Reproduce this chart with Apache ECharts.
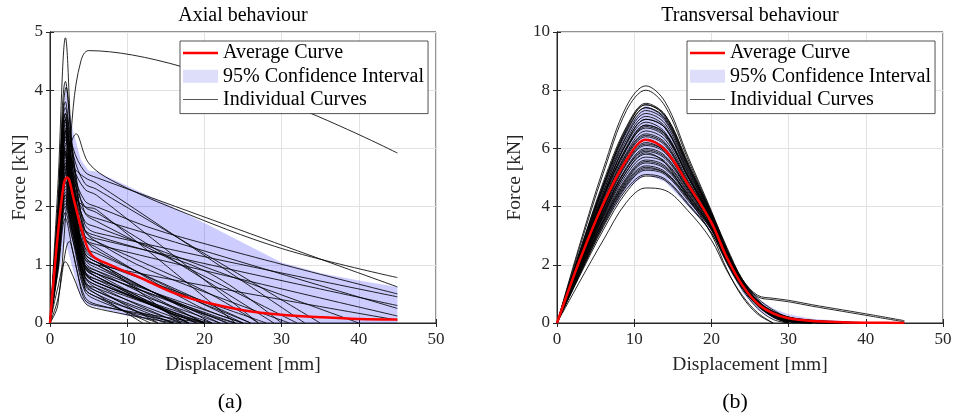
<!DOCTYPE html>
<html>
<head>
<meta charset="utf-8">
<script src="https://cdn.jsdelivr.net/npm/echarts@6/dist/echarts.min.js"></script>
<style>
  html, body { margin: 0; padding: 0; background: #fff; }
  #chart { width: 955px; height: 417px; }
</style>
</head>
<body>
<div id="chart"></div>
<script>
// ---- data ----
const titles = ['Axial behaviour', 'Transversal behaviour'];
const panelTags = ['(a)', '(b)'];
const xName = 'Displacement [mm]';
const yName = 'Force [kN]';
const legendNames = ['Average Curve', '95% Confidence Interval', 'Individual Curves'];

// (a) axial: each curve as [displacement, force] points
const axialCurves = [
  [[0,0],[1,0.3],[2,1.8],[3,3.7],[4,4.5],[5,4.68],[45,2.92]],
  [[0,0],[1,2.3],[2,4.9],[3,2.6],[4.5,0.9],[6,0.7],[20,0]],
  [[0,0],[1,2.0],[2,4.15],[3,2.8],[4.5,1.5],[6,1.25],[25,0]],
  [[0,0],[1,1.9],[2.1,4.05],[3,2.9],[4.5,1.6],[6,1.4],[13,0.9],[31,0]],
  [[0,0],[1,1.2],[2,2.6],[3.4,3.25],[5,2.75],[8,2.45],[16,1.97],[30,1.28],[45,0.78]],
  [[0,0],[1,1.8],[2,3.7],[3,3.0],[4.5,2.6],[6,2.5],[45,0.62]],
  [[0,0],[1,1.7],[2,3.6],[3,2.7],[4.5,2.3],[6,2.2],[27,0]],
  [[0,0],[1,1.75],[1.9,3.55],[3,2.5],[4.5,1.3],[6,1.1],[17,0]],
  [[0,0],[1,1.6],[2,3.5],[3,2.6],[4.5,2.1],[6,2.0],[15,1.55],[45,0.5]],
  [[0,0],[1,1.7],[2,3.45],[3,2.3],[4.5,1.0],[6,0.8],[18,0]],
  [[0,0],[1,1.6],[2,3.4],[3,2.7],[4.5,2.5],[6,2.4],[33,0]],
  [[0,0],[1,1.55],[2.2,3.35],[3,2.6],[4.5,1.7],[6,1.55],[45,0.45]],
  [[0,0],[1,1.5],[2,3.3],[3,2.2],[4.5,0.8],[6,0.6],[14,0]],
  [[0,0],[1,1.5],[2,3.2],[3,2.5],[4.5,2.0],[6,1.9],[29,0]],
  [[0,0],[1,1.5],[2,3.15],[3,2.1],[4.5,0.9],[6,0.7],[21,0]],
  [[0,0],[1,1.45],[2.1,3.1],[3,2.4],[4.5,1.6],[6,1.45],[45,0.3]],
  [[0,0],[1,1.4],[2,3.0],[3,2.1],[4.5,1.1],[6,0.95],[23,0]],
  [[0,0],[1,1.4],[2,2.95],[3,2.0],[4.5,0.75],[6,0.55],[16,0]],
  [[0,0],[1,1.35],[2,2.9],[3,2.3],[4.5,1.9],[6,1.8],[45,0.25]],
  [[0,0],[1,1.3],[2,2.8],[3,1.9],[4.5,0.7],[6,0.5],[15,0]],
  [[0,0],[1,1.3],[2,2.75],[3,2.0],[4.5,1.3],[6,1.2],[26,0]],
  [[0,0],[1,1.25],[2,2.7],[3,1.9],[4.5,1.05],[6,0.9],[20,0]],
  [[0,0],[1,1.25],[2,2.65],[3,2.2],[4.5,2.0],[6,1.95],[24,0]],
  [[0,0],[1,1.2],[2,2.6],[3,1.8],[4.5,0.6],[6,0.45],[13,0]],
  [[0,0],[1,1.2],[2.2,2.5],[3,2.0],[4.5,1.45],[6,1.35],[45,0.12]],
  [[0,0],[1,1.15],[2,2.45],[3,1.7],[4.5,0.85],[6,0.7],[19,0]],
  [[0,0],[1,1.1],[2,2.4],[3,1.8],[4.5,1.2],[6,1.05],[28,0]],
  [[0,0],[1,1.1],[2,2.3],[3,1.6],[4.5,0.7],[6,0.55],[17,0]],
  [[0,0],[1,1.0],[2,2.25],[3,1.7],[4.5,1.15],[6,1.0],[45,0.05]],
  [[0,0],[1,1.05],[2,2.2],[3,1.5],[4.5,0.6],[6,0.45],[16,0]],
  [[0,0],[1,1.0],[2,2.1],[3,1.5],[4.5,0.85],[6,0.75],[22,0]],
  [[0,0],[1,0.95],[2,2.0],[3,1.4],[4.5,0.55],[6,0.4],[14,0]],
  [[0,0],[1,0.9],[2,1.9],[3,1.4],[4.5,0.8],[6,0.65],[20,0]],
  [[0,0],[1,0.85],[2,1.8],[3,1.2],[4.5,0.45],[6,0.32],[17,0]],
  [[0,0],[1,0.4],[2.5,1.4],[3.5,0.9],[4.5,0.4],[6,0.3],[20,0]],
  [[0,0],[1,0.6],[2,1.05],[3,0.8],[4.5,0.35],[6,0.25],[16,0]],
  [[0,0],[1,1.5],[1.8,3.0],[3,1.8],[4.5,1.0],[6,0.85],[18,0]],
  [[0,0],[1,1.4],[2,2.9],[3,2.0],[4.5,1.2],[6,1.05],[21,0]],
  [[0,0],[1,1.2],[2,2.55],[3,1.85],[4.5,1.0],[6,0.85],[24,0]],
  [[0,0],[1,1.55],[2,3.3],[3,2.4],[4.5,1.45],[6,1.3],[19,0.3],[25,0]],
  [[0,0],[1,1.1],[2,2.35],[3,1.65],[4.5,0.95],[6,0.8],[16,0.15],[20,0]],
  [[0,0],[1,1.3],[2,2.75],[3,2.1],[4.5,1.6],[6,1.5],[20,0.9],[30,0]],
  [[0,0],[1,1.7],[2,3.6],[3,2.8],[4.5,1.9],[6,1.75],[32,0]],
  [[0,0],[1,1.0],[2,2.15],[3,1.55],[4.5,1.0],[6,0.9],[14,0.5],[25,0]],
  [[0,0],[1,1.8],[2,3.8],[3,2.9],[4.5,2.4],[6,2.3],[35,0]],
  [[0,0],[1,1.45],[2,3.05],[3,2.05],[4.5,0.95],[6,0.8],[19,0]],
  [[0,0],[1,1.25],[2,2.6],[3,1.75],[4.5,0.8],[6,0.65],[15,0.1],[18,0]],
  [[0,0],[1,1.6],[2,3.35],[3,2.2],[4.5,1.15],[6,1.0],[22,0]],
  [[0,0],[1,1.35],[2,2.85],[3,1.95],[4.5,0.9],[6,0.75],[16,0.15],[21,0]],
  [[0,0],[1,1.05],[2,2.2],[3,1.6],[4.5,0.95],[6,0.85],[23,0]],
  [[0,0],[1,1.5],[2,3.2],[3,2.15],[4.5,1.25],[6,1.1],[26,0]],
  [[0,0],[1,1.15],[2,2.45],[3,1.75],[4.5,1.1],[6,1.0],[12,0.55],[20,0]],
  [[0,0],[1,1.65],[2,3.5],[3,2.35],[4.5,1.2],[6,1.05],[17,0.3],[24,0]],
  [[0,0],[1,1.3],[2,2.7],[3,1.85],[4.5,0.65],[6,0.5],[12,0]],
  [[0,0],[1,0.95],[2,2.05],[3,1.5],[4.5,0.7],[6,0.6],[18,0]],
  [[0,0],[1,1.4],[2,2.95],[3,2.2],[4.5,1.5],[6,1.4],[20,0.55],[27,0]],
  [[0,0],[1,1.55],[2,3.25],[3,2.45],[4.5,1.75],[6,1.65],[40,0]]
];
const axialAvg = [[0,0],[1,1.5],[1.8,2.4],[2.2,2.5],[2.5,2.45],[3,2.17],[4.1,1.6],[5,1.25],[5.8,1.12],[7,1.04],[9.3,0.91],[12,0.76],[16.2,0.51],[20,0.36],[25,0.22],[30,0.14],[35,0.1],[40,0.07],[45,0.06]];
const axialBandX = [0, 1, 2, 3, 4, 5, 6, 10, 15, 20, 25, 30, 35, 40, 45];
const axialBandUpper = [0, 2.1, 4.1, 3.3, 2.8, 2.62, 2.6, 2.36, 2.05, 1.72, 1.38, 1.04, 0.86, 0.73, 0.62];
const axialBandLower = [0, 0.8, 1.4, 0.9, 0.42, 0.3, 0.27, 0.12, 0, 0, 0, 0, 0, 0, 0];

// (b) transversal: shared displacement grid, force per curve
const transX = [0, 3, 6, 9, 11.5, 14, 17, 20, 22, 24, 26, 28, 30, 33, 37, 41, 45];
const transCurves = [
  [0,2.75,5.3,7.45,8.15,7.6,5.7,3.85,2.55,1.45,0.7,0.25,0],
  [0,2.65,5.15,7.3,8.0,7.45,5.6,3.8,2.5,1.4,0.65,0.2,0],
  [0,2.5,4.85,6.75,7.55,7.15,5.45,3.8,2.6,1.5,0.8,0.35,0.1,0],
  [0,2.4,4.7,6.65,7.5,7.15,5.5,3.75,2.5,1.4,0.7,0.3,0.05,0],
  [0,2.5,4.75,6.6,7.4,7.0,5.35,3.7,2.45,1.4,0.75,0.4,0.2,0.05,0],
  [0,2.35,4.6,6.45,7.3,6.95,5.3,3.7,2.5,1.5,0.85,0.45,0.2,0.05,0],
  [0,2.3,4.5,6.4,7.2,6.85,5.25,3.65,2.4,1.35,0.65,0.25,0.05,0],
  [0,2.35,4.5,6.3,7.1,6.75,5.2,3.65,2.45,1.45,0.75,0.35,0.12,0],
  [0,2.2,4.35,6.2,7.0,6.7,5.15,3.6,2.4,1.4,0.72,0.35,0.15,0.03,0],
  [0,2.3,4.4,6.15,6.9,6.55,5.05,3.6,2.35,1.3,0.6,0.2,0],
  [0,2.2,4.3,6.05,6.8,6.5,5.0,3.55,2.35,1.35,0.7,0.32,0.12,0.02,0],
  [0,2.25,4.3,6.0,6.7,6.4,5.0,3.6,2.4,1.4,0.75,0.4,0.2,0.08,0.01,0],
  [0,2.1,4.1,5.85,6.6,6.3,4.9,3.5,2.3,1.3,0.65,0.3,0.12,0.03,0],
  [0,2.15,4.15,5.8,6.5,6.2,4.85,3.5,2.3,1.3,0.68,0.33,0.15,0.05,0],
  [0,2.1,4.0,5.7,6.4,6.1,4.8,3.5,2.3,1.35,0.7,0.35,0.17,0.07,0.02,0],
  [0,2.0,3.95,5.6,6.3,6.0,4.75,3.45,2.25,1.3,0.65,0.3,0.1,0.02,0],
  [0,2.1,3.95,5.55,6.2,5.9,4.7,3.45,2.3,1.35,0.72,0.38,0.2,0.09,0.03,0],
  [0,2.0,3.85,5.45,6.1,5.85,4.65,3.4,2.2,1.25,0.6,0.25,0.08,0],
  [0,1.95,3.8,5.35,6.0,5.75,4.6,3.4,2.25,1.3,0.68,0.33,0.14,0.04,0],
  [0,2.0,3.8,5.3,5.9,5.65,4.55,3.35,2.2,1.25,0.62,0.28,0.1,0.02,0],
  [0,1.9,3.7,5.2,5.8,5.55,4.5,3.35,2.25,1.32,0.7,0.38,0.2,0.1,0.04,0],
  [0,1.9,3.65,5.1,5.7,5.5,4.45,3.3,2.2,1.28,0.65,0.3,0.12,0.03,0],
  [0,1.85,3.6,5.0,5.6,5.4,4.4,3.3,2.2,1.3,0.7,0.35,0.16,0.06,0.01,0],
  [0,1.8,3.5,4.9,5.5,5.3,4.35,3.25,2.15,1.22,0.6,0.25,0.07,0],
  [0,1.85,3.5,4.85,5.4,5.2,4.3,3.25,2.2,1.3,0.7,0.36,0.18,0.08,0.02,0],
  [0,1.75,3.4,4.75,5.3,5.15,4.25,3.2,2.1,1.2,0.58,0.22,0.04,0],
  [0,1.7,3.35,4.7,5.25,5.1,4.2,3.2,2.15,1.25,0.65,0.3,0.12,0.03,0],
  [0,1.7,3.3,4.6,5.1,4.95,4.1,3.1,2.05,1.15,0.5,0.12,0],
  [0,1.65,3.2,4.5,5.05,4.9,4.05,3.1,2.1,1.2,0.6,0.25,0.07,0],
  [0,1.45,2.85,4.15,4.64,4.56,3.85,2.85,1.8,0.95,0.35,0],
  [0,2.3,4.4,6.2,7.0,6.7,5.1,3.6,2.45,1.5,0.95,0.85,0.78,0.63,0.45,0.27,0.08],
  [0,2.2,4.3,6.0,6.8,6.5,5.0,3.55,2.4,1.45,0.9,0.8,0.73,0.58,0.4,0.22,0.04],
  [0,1.9,3.7,5.2,5.85,5.5,4.3,3.05,1.85,0.9,0.3,0],
  [0,2.05,4.0,5.75,6.45,6.15,4.8,3.5,2.3,1.3,0.66,0.3,0.1,0.02,0],
  [0,2.2,4.2,5.95,6.75,6.45,5.0,3.55,2.3,1.3,0.62,0.25,0.06,0],
  [0,1.95,3.75,5.3,5.95,5.7,4.6,3.4,2.25,1.3,0.66,0.3,0.12,0.03,0],
  [0,2.4,4.65,6.55,7.4,7.05,5.4,3.7,2.45,1.4,0.72,0.32,0.12,0.02,0],
  [0,1.8,3.55,4.95,5.55,5.35,4.4,3.3,2.2,1.28,0.65,0.3,0.1,0.02,0],
  [0,2.45,4.75,6.7,7.5,7.1,5.4,3.75,2.5,1.45,0.75,0.33,0.1,0],
  [0,2.0,3.9,5.5,6.15,5.9,4.7,3.45,2.3,1.3,0.66,0.3,0.1,0.02,0],
  [0,1.75,3.45,4.8,5.35,5.15,4.3,3.25,2.15,1.25,0.64,0.28,0.09,0]
];
const transAvg = [0, 2.2, 4.1, 5.6, 6.3, 5.95, 4.75, 3.45, 2.25, 1.3, 0.66, 0.33, 0.16, 0.07, 0.03, 0.01, 0];
const transBandUpper = [0, 2.6, 4.85, 6.7, 7.5, 7.15, 5.5, 3.75, 2.5, 1.5, 0.85, 0.5, 0.3, 0.15, 0.07, 0.03, 0.01];
const transBandLower = [0, 1.8, 3.35, 4.6, 5.1, 4.85, 4.0, 3.15, 2.0, 1.05, 0.45, 0.15, 0.02, 0, 0, 0, 0];

const xTicks = { min: 0, max: 50, interval: 10 };
const yTicks = [{ min: 0, max: 5, interval: 1 }, { min: 0, max: 10, interval: 2 }];

// ---- chart ----
const FONT = '"Liberation Serif", "Times New Roman", serif';
const AXIS_COLOR = '#262626';
const gridLeft = [50, 557];

const chart = echarts.init(document.getElementById('chart'));

function pairs(xs, ys) {
  return ys.map((y, i) => [xs[i], y]);
}

function bandSeries(gi, xs, upper, lower) {
  return {
    type: 'custom',
    name: legendNames[1],
    xAxisIndex: gi,
    yAxisIndex: gi,
    silent: true,
    z: 1,
    itemStyle: { color: '#dedefb' },
    data: [[0, 0]],
    renderItem(params, api) {
      const pts = [];
      xs.forEach((x, i) => pts.push(api.coord([x, upper[i]])));
      for (let i = xs.length - 1; i >= 0; i--) pts.push(api.coord([xs[i], lower[i]]));
      return {
        type: 'polygon',
        shape: { points: pts },
        style: { fill: 'rgba(0, 0, 255, 0.2)' }
      };
    }
  };
}

function curveSeries(gi, data) {
  return {
    type: 'line',
    name: legendNames[2],
    xAxisIndex: gi,
    yAxisIndex: gi,
    data: data,
    symbol: 'none',
    smooth: 0.35,
    silent: true,
    z: 2,
    lineStyle: { color: '#000', width: 0.85 },
    itemStyle: { color: '#000' }
  };
}

function avgSeries(gi, data) {
  return {
    type: 'line',
    name: legendNames[0],
    xAxisIndex: gi,
    yAxisIndex: gi,
    data: data,
    symbol: 'none',
    smooth: 0.35,
    silent: true,
    z: 3,
    lineStyle: { color: '#ff0000', width: 2.5 },
    itemStyle: { color: '#ff0000' }
  };
}

const series = [];
series.push(bandSeries(0, axialBandX, axialBandUpper, axialBandLower));
axialCurves.forEach(c => series.push(curveSeries(0, c)));
series.push(avgSeries(0, axialAvg));
series.push(bandSeries(1, transX, transBandUpper, transBandLower));
transCurves.forEach(c => series.push(curveSeries(1, pairs(transX, c))));
series.push(avgSeries(1, pairs(transX, transAvg)));

const xAxes = [];
const yAxes = [];
[0, 1].forEach(gi => {
  xAxes.push({
    type: 'value', gridIndex: gi, ...xTicks,
    name: xName, nameLocation: 'middle', nameGap: 32,
    nameTextStyle: { fontFamily: FONT, fontSize: 19.5, color: AXIS_COLOR },
    axisLine: { lineStyle: { color: AXIS_COLOR, width: 1 } },
    axisTick: { inside: true, length: 4, lineStyle: { color: AXIS_COLOR } },
    axisLabel: { fontFamily: FONT, fontSize: 17, color: AXIS_COLOR, margin: 8 },
    splitLine: { lineStyle: { color: '#e2e2e2', width: 1 } }
  });
  yAxes.push({
    type: 'value', gridIndex: gi, ...yTicks[gi],
    name: yName, nameLocation: 'middle', nameGap: gi === 0 ? 20 : 32,
    nameTextStyle: { fontFamily: FONT, fontSize: 19.5, color: AXIS_COLOR },
    axisLine: { show: true, lineStyle: { color: AXIS_COLOR, width: 1 } },
    axisTick: { show: true, inside: true, length: 4, lineStyle: { color: AXIS_COLOR } },
    axisLabel: { fontFamily: FONT, fontSize: 17, color: AXIS_COLOR, margin: 7 },
    splitLine: { lineStyle: { color: '#e2e2e2', width: 1 } }
  });
});
// box ticks on top / right
[0, 1].forEach(gi => {
  xAxes.push({
    type: 'value', gridIndex: gi, position: 'top', ...xTicks,
    axisLine: { lineStyle: { color: AXIS_COLOR } },
    axisTick: { inside: true, length: 4, lineStyle: { color: AXIS_COLOR } },
    axisLabel: { show: false }, splitLine: { show: false }
  });
  yAxes.push({
    type: 'value', gridIndex: gi, position: 'right', ...yTicks[gi],
    axisLine: { show: true, lineStyle: { color: AXIS_COLOR } },
    axisTick: { show: true, inside: true, length: 4, lineStyle: { color: AXIS_COLOR } },
    axisLabel: { show: false }, splitLine: { show: false }
  });
});

function legendFor(gi) {
  return {
    orient: 'vertical',
    left: gi === 0 ? 180 : 687,
    top: 41,
    itemWidth: 35,
    itemHeight: 13,
    itemGap: 3.3,
    padding: [2, 4, 4, 3],
    backgroundColor: '#fff',
    borderColor: AXIS_COLOR,
    borderWidth: 0.8,
    borderRadius: 0,
    selectedMode: false,
    symbolKeepAspect: true,
    textStyle: { fontFamily: FONT, fontSize: 20, lineHeight: 20, color: '#000' },
    data: [
      { name: legendNames[0], icon: 'path://M0,0H35V2.5H0Z', itemStyle: { color: '#ff0000', borderWidth: 0 } },
      { name: legendNames[1], icon: 'rect', itemStyle: { color: '#dedefb', borderWidth: 0 } },
      { name: legendNames[2], icon: 'path://M0,0H35V1H0Z', itemStyle: { color: '#555', borderWidth: 0 } }
    ]
  };
}

const graphics = [];
[0, 1].forEach(gi => {
  const cx = gridLeft[gi] + 193;
  graphics.push({
    type: 'text', x: cx, y: 16,
    style: { text: titles[gi], fontFamily: FONT, fontSize: 20, fill: '#000', align: 'center', verticalAlign: 'middle' }
  });
  graphics.push({
    type: 'text', x: gi === 0 ? 230 : 735, y: 402,
    style: { text: panelTags[gi], fontFamily: FONT, fontSize: 22, fill: '#000', align: 'center', verticalAlign: 'middle' }
  });
});

chart.setOption({
  animation: false,
  backgroundColor: '#fff',
  grid: [
    { left: 50, top: 32, width: 386, height: 291, show: true, borderColor: AXIS_COLOR, borderWidth: 1, backgroundColor: 'transparent' },
    { left: 557, top: 32, width: 386, height: 291, show: true, borderColor: AXIS_COLOR, borderWidth: 1, backgroundColor: 'transparent' }
  ],
  xAxis: xAxes,
  yAxis: yAxes,
  legend: [legendFor(0), legendFor(1)],
  graphic: graphics,
  series: series
});
</script>
</body>
</html>
